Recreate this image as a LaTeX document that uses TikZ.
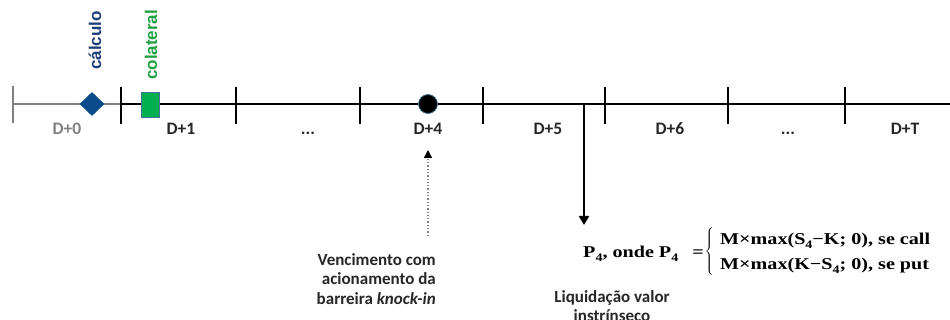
\documentclass[tikz,border=0pt]{standalone}
\usepackage{fontspec}
\usepackage{amsmath}
\usepackage{graphicx}
\usetikzlibrary{arrows.meta,shapes.geometric}
\newfontfamily\calfont{Carlito}
\newfontfamily\arialfont{Liberation Sans}
\newfontfamily\formfont[FakeStretch=1.22]{Liberation Serif}
\newcommand{\fsub}[1]{\raisebox{-3.5pt}{\fontsize{11.5}{12}\selectfont #1}}
\definecolor{cnavy}{HTML}{1F3F7A}
\definecolor{cdiam}{HTML}{0B4A8B}
\definecolor{cgreen}{HTML}{00B050}
\definecolor{cgtext}{HTML}{1FA040}
\definecolor{cgray}{HTML}{808080}
\definecolor{cedge}{HTML}{41719C}
\begin{document}
\begin{tikzpicture}[x=1pt,y=-1pt,
  axisline/.style={line width=2.4pt},
  tickmark/.style={line width=2.6pt},
  dlabel/.style={font=\calfont\bfseries\fontsize{17.5}{20}\selectfont, text=black!85, inner sep=0pt, anchor=base},
  vlabel/.style={font=\arialfont\bfseries\fontsize{17}{18}\selectfont, inner sep=0pt, anchor=south},
  note/.style={font=\calfont\bfseries\fontsize{17}{19.5}\selectfont, text=black!85, inner sep=0pt},
  ftext/.style={font=\formfont\bfseries\fontsize{16.5}{25}\selectfont, inner sep=0pt}
]
\useasboundingbox (0,0) rectangle (950,320);
% axis coordinates
\coordinate (a0) at (13,104);
\coordinate (a1) at (121,104);
\coordinate (aend) at (950,104);
% axis
\draw[axisline, cgray] (a0) -- (a1);
\draw[axisline] (a1) -- (aend);
% ticks
\foreach \n/\x in {t1/121,t2/236,t3/360,t4/483,t5/605,t6/728,t7/845}{
  \coordinate (\n a) at (\x,87);
  \coordinate (\n b) at (\x,124);
  \draw[tickmark] (\n a) -- (\n b);
}
\coordinate (t0a) at (13,86);
\coordinate (t0b) at (13,123);
\draw[tickmark, cgray] (t0a) -- (t0b);
% markers
\node[diamond, fill=cdiam, inner sep=0pt, minimum width=25pt, minimum height=24pt] (calc) at (92,104) {};
\node[rectangle, fill=cgreen, draw=cedge, line width=0.8pt, inner sep=0pt, minimum width=18pt, minimum height=25pt] (col) at (150,105) {};
\node[circle, fill=black, draw=cedge, line width=0.8pt, inner sep=0pt, minimum size=19pt] (venc) at (428,104) {};
% vertical labels
\node[vlabel, text=cnavy] (lcalc) at (95,70) {\rotatebox{90}{cálculo}};
\node[vlabel, text=cgtext] (lcol) at (151,80) {\rotatebox{90}{colateral}};
% D labels
\node[dlabel, text=cgray] (d0) at (67,135) {D+0};
\node[dlabel] (d1) at (181,135) {D+1};
\node[dlabel] (d2) at (308,135) {...};
\node[dlabel] (d4) at (428,135) {D+4};
\node[dlabel] (d5) at (548,135) {D+5};
\node[dlabel] (d6) at (670,135) {D+6};
\node[dlabel] (d7) at (788,135) {...};
\node[dlabel] (d8) at (905,135) {D+T};
% dotted arrow
\coordinate (dotbot) at (428,236);
\coordinate (dottop) at (428,150);
\draw[cgray, line width=1.3pt, dotted, -{Triangle[width=8pt,length=8pt,fill=black,color=black]}] (dotbot) -- (dottop);
\node[note, align=right, anchor=north east] (vtext) at (436,253) {Vencimento com\\acionamento da\\barreira \textit{knock-in}};
% settlement arrow
\coordinate (sdown) at (584,104);
\coordinate (stip) at (584,225);
\draw[line width=2.4pt, -{Triangle[width=10pt,length=9pt]}] (sdown) -- (stip);
% formula
\node[ftext, anchor=base west] (flhs) at (583,258) {P\fsub{4}, onde P\fsub{4}};
\node[ftext, anchor=base] (feq) at (698,258) {=};
\node[inner sep=0pt, anchor=center] (fbrace) at (710,252) {$\left\{\rule[-23pt]{0pt}{46pt}\right.$};
\node[ftext, anchor=base west] (fl1) at (720,245) {M×max(S\fsub{4}−K; 0), se call};
\node[ftext, anchor=base west] (fl2) at (720,270) {M×max(K−S\fsub{4}; 0), se put};
\node[note, align=center, anchor=north] (liq) at (612,290) {Liquidação valor\\instrínseco};
\end{tikzpicture}
\end{document}
